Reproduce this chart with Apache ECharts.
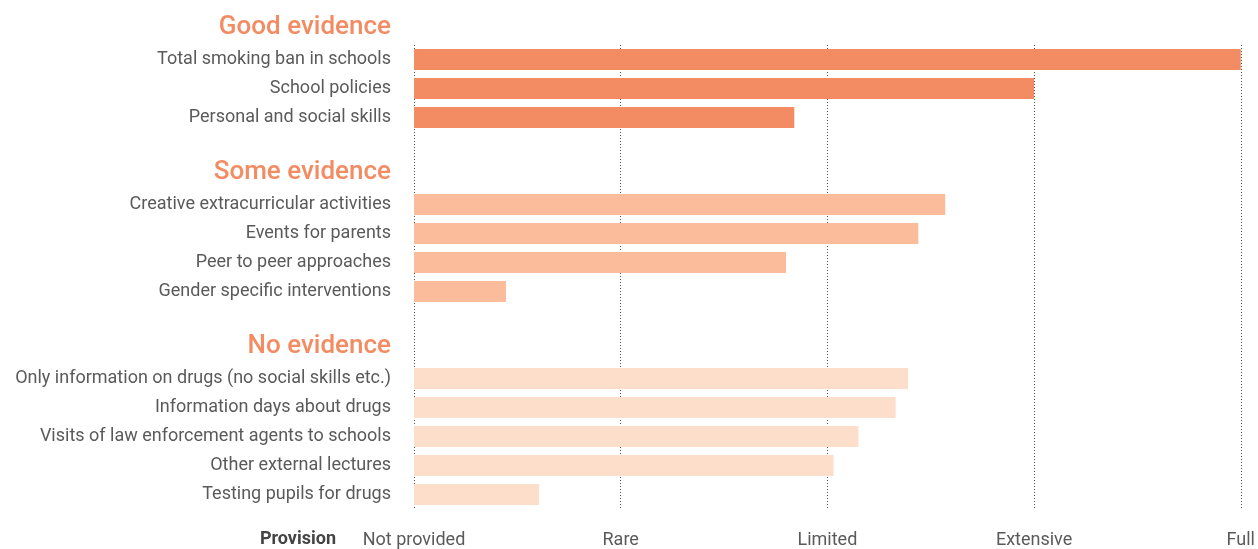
<!DOCTYPE html>
<html>
<head>
<meta charset="utf-8">
<script src="https://cdn.jsdelivr.net/npm/echarts@6/dist/echarts.min.js"></script>
<style>
  html, body { margin: 0; padding: 0; background: #fff; }
  #chart { width: 1258px; height: 549px; }
</style>
</head>
<body>
<div id="chart"></div>
<script>
// data
const groupNames = ['Good evidence', 'Some evidence', 'No evidence'];
const goodItems = ['Total smoking ban in schools', 'School policies', 'Personal and social skills'];
const goodValues = [4.0, 3.0, 1.84];
const someItems = ['Creative extracurricular activities', 'Events for parents', 'Peer to peer approaches', 'Gender specific interventions'];
const someValues = [2.57, 2.44, 1.8, 0.445];
const noItems = ['Only information on drugs (no social skills etc.)', 'Information days about drugs', 'Visits of law enforcement agents to schools', 'Other external lectures', 'Testing pupils for drugs'];
const noValues = [2.39, 2.33, 2.15, 2.03, 0.605];
const provisionLabels = ['Not provided', 'Rare', 'Limited', 'Extensive', 'Full'];

const groupColors = ['#F38B63', '#FBBC9C', '#FDDECB'];
const GAP_SLOTS = 2;

// build category slots: group rows with two empty slots between groups
const groups = [
  { name: groupNames[0], items: goodItems, values: goodValues },
  { name: groupNames[1], items: someItems, values: someValues },
  { name: groupNames[2], items: noItems, values: noValues },
];
const categories = [];
const headerAt = {};
const barData = [];
groups.forEach((g, gi) => {
  if (gi > 0) {
    for (let k = 0; k < GAP_SLOTS; k++) {
      categories.push('gap' + gi + '_' + k);
      barData.push('-');
    }
  }
  g.items.forEach((name, i) => {
    if (i === 0) headerAt[name] = g.name;
    categories.push(name);
    barData.push({ value: g.values[i], itemStyle: { color: groupColors[gi] } });
  });
});

const chart = echarts.init(document.getElementById('chart'), null, { renderer: 'canvas' });
const FONT = 'Roboto, "Noto Sans", sans-serif';

chart.setOption({
  animation: false,
  grid: { left: 414, right: 17, top: 45, height: 466, containLabel: false },
  xAxis: {
    type: 'value',
    min: 0,
    max: 4,
    interval: 1,
    axisLine: { show: false },
    axisTick: { show: false },
    splitLine: { show: true, lineStyle: { color: '#555', width: 1, type: [1, 2] } },
    axisLabel: {
      margin: 22,
      color: '#5a5a5a',
      fontSize: 18,
      fontFamily: FONT,
      formatter: (v) => provisionLabels[Math.round(v)] || '',
    },
  },
  yAxis: {
    type: 'category',
    inverse: true,
    data: categories,
    axisLine: { show: false },
    axisTick: { show: false },
    splitLine: { show: false },
    axisLabel: {
      margin: 23,
      interval: 0,
      fontFamily: FONT,
      formatter: (v) => {
        if (v.indexOf('gap') === 0) return '';
        if (headerAt[v]) return '{h|' + headerAt[v] + '}\n{r|' + v + '}\n{s|}';
        return '{r|' + v + '}';
      },
      rich: {
        h: { fontSize: 26, fontWeight: 500, color: '#F38B63', fontFamily: FONT, lineHeight: 35, align: 'right' },
        r: { fontSize: 18, color: '#5a5a5a', fontFamily: FONT, lineHeight: 29, align: 'right' },
        s: { fontSize: 18, lineHeight: 35 },
      },
    },
  },
  series: [{
    type: 'bar',
    data: barData,
    barWidth: 21,
    silent: true,
  }],
  graphic: [{
    type: 'text',
    right: 1258 - 336,
    top: 530,
    style: { text: 'Provision', fill: '#444', font: 'bold 18px ' + FONT },
  }],
});
</script>
</body>
</html>
